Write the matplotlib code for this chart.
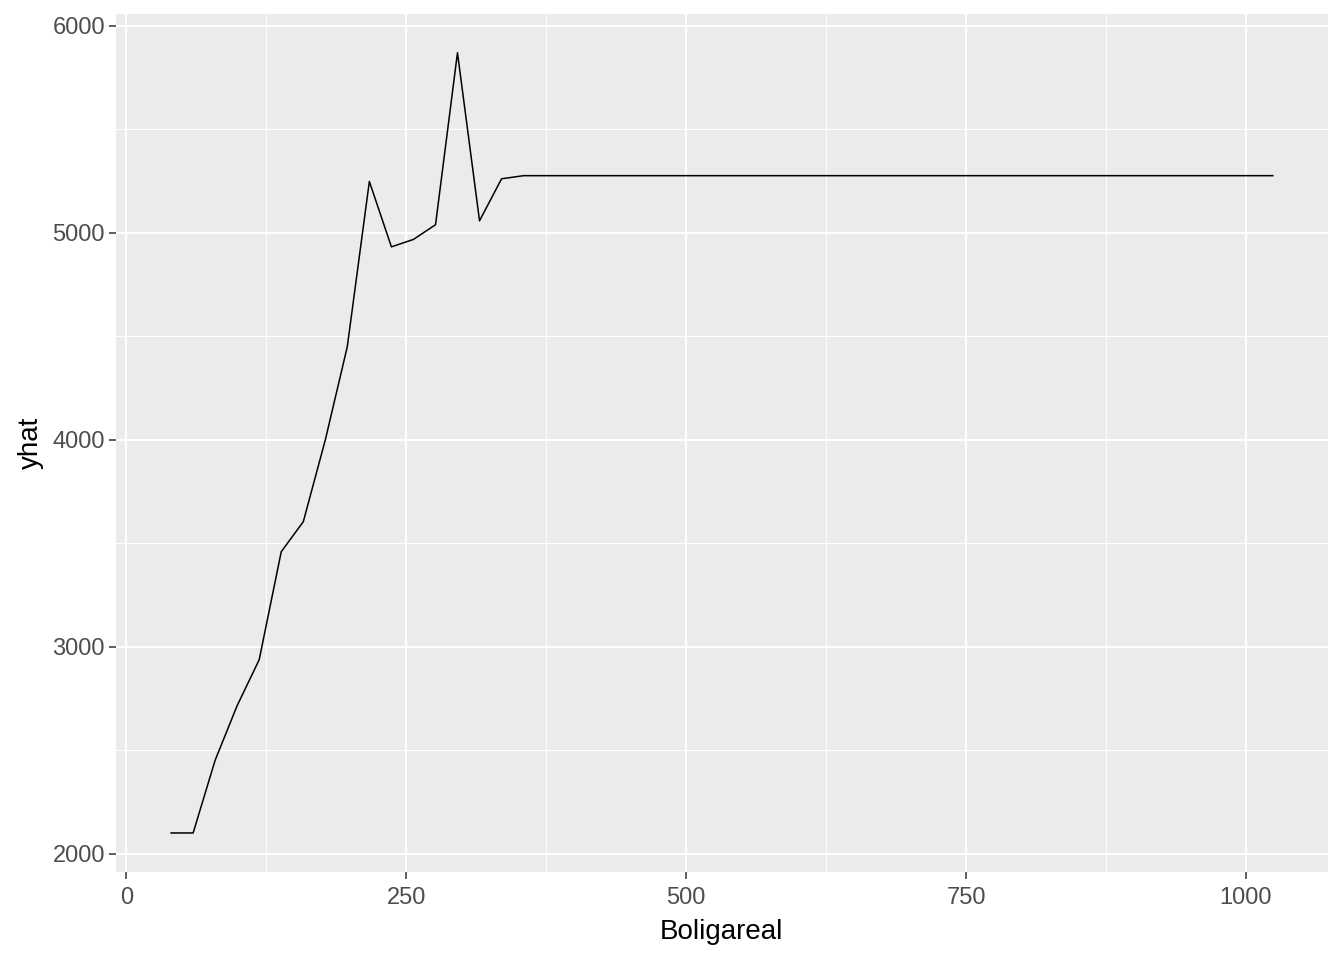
import matplotlib.pyplot as plt
from matplotlib.ticker import MultipleLocator

plt.rcParams['font.family'] = ['Liberation Sans', 'DejaVu Sans']

boligareal = [40, 59.7, 79.4, 99.0, 118.7, 138.4, 158.1, 177.8, 197.4, 217.1,
              236.8, 256.5, 276.2, 295.8, 315.5, 335.2, 354.9, 1024]
yhat = [2100, 2100, 2452, 2715, 2937, 3459, 3604, 4000, 4450, 5248,
        4932, 4968, 5039, 5870, 5058, 5261, 5276, 5276]

fig = plt.figure(figsize=(13.44, 9.6), dpi=100)
ax = fig.add_axes([0.0863, 0.0917, 0.9017, 0.894])
ax.set_facecolor('#EBEBEB')
for s in ax.spines.values():
    s.set_visible(False)

ax.plot(boligareal, yhat, color='black', lw=1.1, zorder=3)

ax.set_xlim(-9.2, 1073.2)
ax.set_ylim(1911.5, 6058.5)
ax.xaxis.set_major_locator(MultipleLocator(250))
ax.xaxis.set_minor_locator(MultipleLocator(125))
ax.yaxis.set_major_locator(MultipleLocator(1000))
ax.yaxis.set_minor_locator(MultipleLocator(500))
ax.grid(which='major', color='white', lw=1.4)
ax.grid(which='minor', color='white', lw=0.7)
ax.set_axisbelow(True)

ax.tick_params(which='major', length=5, width=1.1, color='#333333',
               labelsize=17, labelcolor='#4D4D4D', pad=3)
ax.tick_params(axis='x', which='major', pad=6)
ax.tick_params(which='minor', length=0)

ax.set_xlabel('Boligareal', fontsize=20, labelpad=7)
ax.set_ylabel('yhat', fontsize=20, labelpad=6)

fig.savefig('out.png', dpi=100)
